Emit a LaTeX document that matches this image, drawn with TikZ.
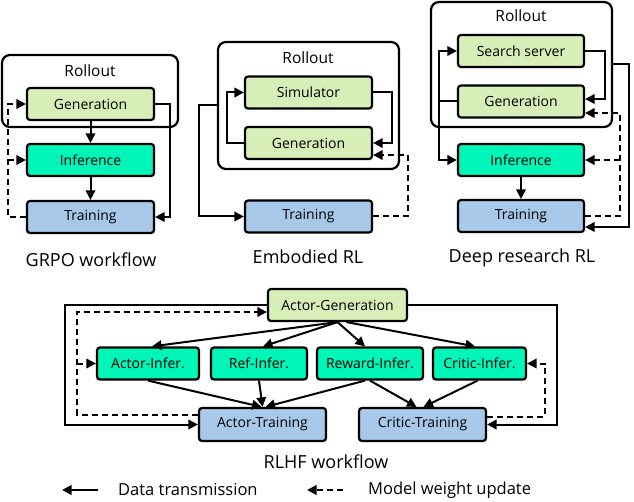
\documentclass[tikz,border=0pt]{standalone}
\usepackage{fontspec}
\setmainfont{Open Sans}
\usetikzlibrary{arrows.meta,calc}
\definecolor{cgen}{HTML}{D8EEB8}
\definecolor{cinf}{HTML}{00F5B8}
\definecolor{ctrn}{HTML}{A8C8EA}
\tikzset{
 wbox/.style={draw=black, line width=2.2pt, rounded corners=3pt, minimum height=32pt, inner sep=0pt, font=\fontsize{14}{16}\selectfont},
 gen/.style={wbox, fill=cgen},
 inf/.style={wbox, fill=cinf},
 trn/.style={wbox, fill=ctrn},
 rollout/.style={draw=black, line width=2.2pt, rounded corners=8pt, inner sep=0pt},
 lbl/.style={font=\fontsize{15.5}{18}\selectfont, inner sep=0pt},
 captxt/.style={font=\fontsize{18}{21}\selectfont, inner sep=0pt},
 legtxt/.style={font=\fontsize{16.5}{20}\selectfont, inner sep=0pt},
 arr/.style={line width=2pt, -{Triangle[length=9.5pt,width=9.5pt]}},
 darr/.style={arr, dash pattern=on 6pt off 4pt},
 ln/.style={line width=2pt},
}
\begin{document}
\begin{tikzpicture}[x=1pt,y=-1pt]
\useasboundingbox (0,0) rectangle (634,502);

% ---------- GRPO ----------
\node[rollout, minimum width=176pt, minimum height=72pt] (r1) at (90,91) {};
\node[lbl] (r1l) at (90,71) {Rollout};
\node[gen, minimum width=127pt] (g1) at (90.5,104) {Generation};
\node[inf, minimum width=127pt] (i1) at (90.5,160) {Inference};
\node[trn, minimum width=127pt] (t1) at (90.5,217) {Training};
\node[captxt] (c1) at (91,260) {GRPO workflow};
\draw[arr] (g1.south) -- (i1.north);
\draw[arr] (i1.south) -- (t1.north);
\draw[arr] (g1.east) -- (170,104) |- (t1.east);
\coordinate (d1) at (8,217);
\coordinate (d1m) at (8,160);
\draw[darr] (t1.west) -- (d1) |- (g1.west);
\draw[darr] (d1m) -- (i1.west);

% ---------- Embodied ----------
\node[rollout, minimum width=181pt, minimum height=127pt] (r2) at (308.5,105.5) {};
\node[lbl] (r2l) at (308,58) {Rollout};
\node[gen, minimum width=127pt] (s2) at (308.5,92.5) {Simulator};
\node[gen, minimum width=127pt] (g2) at (308.5,143) {Generation};
\node[trn, minimum width=127pt] (t2) at (308.5,216.5) {Training};
\node[captxt] (c2) at (308,257) {Embodied RL};
\draw[arr] (g2.west) -- (227,143) |- (s2.west);
\draw[arr] (s2.east) -- (392,92.5) |- (g2.east);
\draw[arr] (r2.west) -- (199,105.5) |- (t2.west);
\draw[darr] (t2.east) -- (408,216.5) |- ([yshift=-12pt]g2.east);

% ---------- Deep research ----------
\node[rollout, minimum width=181pt, minimum height=125pt] (r3) at (521.5,64.5) {};
\node[lbl] (r3l) at (521,16) {Rollout};
\node[gen, minimum width=126pt] (s3) at (521,51) {Search server};
\node[gen, minimum width=126pt] (g3) at (521,101.5) {Generation};
\node[inf, minimum width=126pt] (i3) at (521,160) {Inference};
\node[trn, minimum width=126pt] (t3) at (521,216) {Training};
\node[captxt] (c3) at (522,258) {Deep research RL};
\coordinate (j3) at (439,101.5);
\draw[ln] (g3.west) -- (j3);
\draw[arr] (j3) |- (s3.west);
\draw[arr] (j3) |- (i3.west);
\draw[arr] (s3.east) -- (605,51) |- ([yshift=2.5pt]g3.east);
\draw[arr] (i3.south) -- (t3.north);
\draw[arr] (r3.east) -- (629,64.5) |- ([yshift=-11pt]t3.east);
\coordinate (d3m) at (620,160);
\draw[darr] (t3.east) -- (620,216) |- ([yshift=-11.5pt]g3.east);
\draw[darr] (d3m) -- (i3.east);

% ---------- RLHF ----------
\node[gen, minimum width=139pt] (ag) at (337.5,305) {Actor-Generation};
\node[inf, minimum width=102pt] (ai) at (148,363.5) {Actor-Infer.};
\node[inf, minimum width=96pt] (ri) at (259,363.5) {Ref-Infer.};
\node[inf, minimum width=106pt] (wi) at (370,363.5) {Reward-Infer.};
\node[inf, minimum width=93pt] (ci) at (479.5,363.5) {Critic-Infer.};
\node[trn, minimum width=127pt, minimum height=33pt] (at) at (262.5,424.5) {Actor-Training};
\node[trn, minimum width=127pt, minimum height=33pt] (ct) at (422.5,424.5) {Critic-Training};
\node[captxt] (c4) at (326,462) {RLHF workflow};

\draw[arr] (ag.south) -- ([xshift=4pt]ai.north);
\draw[arr] (ag.south) -- ([xshift=4pt]ri.north);
\draw[arr] (ag.south) -- ([xshift=-5pt]wi.north);
\draw[arr] ([xshift=9pt]ag.south) -- ([xshift=-4.5pt]ci.north);

\draw[arr] (ai.south) -- ([xshift=-1pt]at.north);
\draw[arr] (ri.south) -- (at.north);
\draw[arr] ([xshift=-5pt]wi.south) -- ([xshift=3pt]at.north);
\draw[arr] (wi.south) -- ([xshift=-6pt]ct.north);
\draw[arr] ([xshift=-2pt]ci.south) -- ([xshift=1pt]ct.north);

\draw[arr] (ag.west) -- (65,305) |- (at.west);
\draw[arr] (ag.east) -- (557,305) |- (ct.east);
\coordinate (d4m) at (77,363.5);
\draw[darr] ([yshift=10pt]at.west) -- (77,414.5) |- ([yshift=-7pt]ag.west);
\draw[darr] (d4m) -- (ai.west);
\draw[darr] ([yshift=8pt]ct.east) -- (545,416.5) |- (ci.east);

% ---------- Legend ----------
\coordinate (l1a) at (98,490);
\coordinate (l1b) at (62,490);
\draw[arr] (l1a) -- (l1b);
\node[legtxt, anchor=west] (l1t) at (118,490) {Data transmission};
\coordinate (l2a) at (343,490);
\coordinate (l2b) at (307,490);
\draw[darr] (l2a) -- (l2b);
\node[legtxt, anchor=west] (l2t) at (368,490) {Model weight update};
\end{tikzpicture}
\end{document}
